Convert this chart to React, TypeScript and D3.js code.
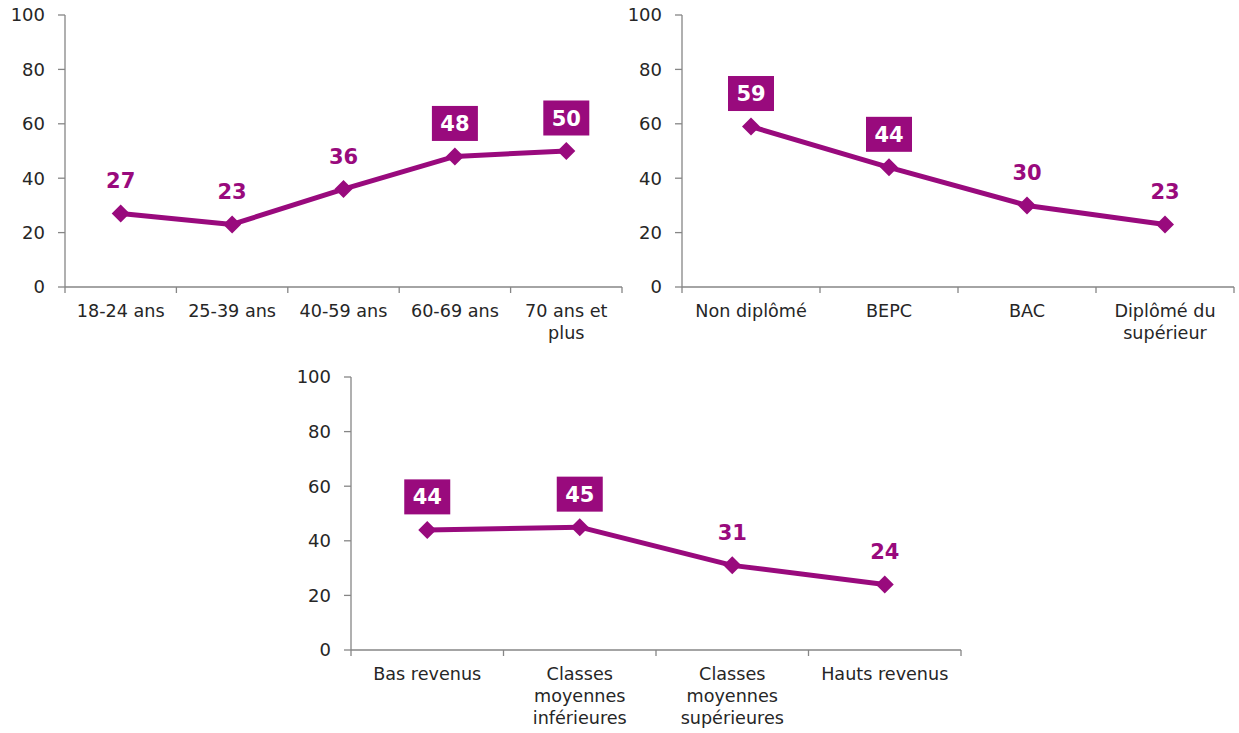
import React from "react";
import * as d3 from "d3";

const ageCategories = ["18-24 ans", "25-39 ans", "40-59 ans", "60-69 ans", "70 ans et\nplus"];
const ageValues = [27, 23, 36, 48, 50];
const ageBoxed = [false, false, false, true, true];

const eduCategories = ["Non diplômé", "BEPC", "BAC", "Diplômé du\nsupérieur"];
const eduValues = [59, 44, 30, 23];
const eduBoxed = [true, true, false, false];

const incCategories = ["Bas revenus", "Classes\nmoyennes\ninférieures", "Classes\nmoyennes\nsupérieures", "Hauts revenus"];
const incValues = [44, 45, 31, 24];
const incBoxed = [true, true, false, false];

const yTicks = [0, 20, 40, 60, 80, 100];

const PURPLE = "#990a7d";
const AXIS = "#868686";
const TEXT = "#262626";
const FONT = "'DejaVu Sans', Verdana, sans-serif";

type PanelProps = {
  x0: number; x1: number; yTop: number; yBottom: number;
  categories: string[]; values: number[]; boxed: boolean[];
};

function Panel({ x0, x1, yTop, yBottom, categories, values, boxed }: PanelProps) {
  const y = d3.scaleLinear().domain([0, 100]).range([yBottom, yTop]);
  const band = d3.scaleBand<string>().domain(categories).range([x0, x1]).padding(0);
  const cx = (c: string) => (band(c) as number) + band.bandwidth() / 2;
  const pts: [number, number][] = categories.map((c, i) => [cx(c), y(values[i])]);
  const line = d3.line()(pts) as string;
  const edges = categories.map((c) => band(c) as number).concat([x1]);
  return (
    <g>
      <line x1={x0} x2={x0} y1={yTop} y2={yBottom} stroke={AXIS} strokeWidth={1.3} />
      <line x1={x0} x2={x1} y1={yBottom} y2={yBottom} stroke={AXIS} strokeWidth={1.3} />
      {yTicks.map((t) => (
        <g key={t}>
          <line x1={x0 - 7} x2={x0} y1={y(t)} y2={y(t)} stroke={AXIS} strokeWidth={1.3} />
          <text x={x0 - 20} y={y(t)} dy="0.36em" textAnchor="end" fontSize={18} fill={TEXT} fontFamily={FONT}>{t}</text>
        </g>
      ))}
      {edges.map((e, i) => (
        <line key={i} x1={e} x2={e} y1={yBottom} y2={yBottom + 6} stroke={AXIS} strokeWidth={1.3} />
      ))}
      {categories.map((c) => (
        <text key={c} x={cx(c)} y={yBottom + 30} textAnchor="middle" fontSize={17.6} fill={TEXT} fontFamily={FONT}>
          {c.split("\n").map((l, j) => (
            <tspan key={j} x={cx(c)} dy={j === 0 ? 0 : 22}>{l}</tspan>
          ))}
        </text>
      ))}
      <path d={line} fill="none" stroke={PURPLE} strokeWidth={5} strokeLinejoin="round" />
      {pts.map(([px, py], i) => (
        <path key={i} d={`M${px},${py - 9}L${px + 9},${py}L${px},${py + 9}L${px - 9},${py}Z`} fill={PURPLE} />
      ))}
      {pts.map(([px, py], i) => {
        const cy = py - 33;
        return (
          <g key={"l" + i}>
            {boxed[i] && <rect x={px - 23} y={cy - 17.5} width={46} height={35} fill={PURPLE} />}
            <text x={px} y={cy} dy="0.36em" textAnchor="middle" fontSize={21} fontWeight="bold"
              fill={boxed[i] ? "#ffffff" : PURPLE} fontFamily={FONT}>{values[i]}</text>
          </g>
        );
      })}
    </g>
  );
}

export default function App() {
  return (
    <svg width={1239} height={733} style={{ position: "absolute", left: 0, top: 0, background: "#fff" }}>
      <rect width={1239} height={733} fill="#fff" />
      <Panel x0={65} x1={622} yTop={15} yBottom={287} categories={ageCategories} values={ageValues} boxed={ageBoxed} />
      <Panel x0={682} x1={1234} yTop={15} yBottom={287} categories={eduCategories} values={eduValues} boxed={eduBoxed} />
      <Panel x0={351} x1={961} yTop={377} yBottom={650} categories={incCategories} values={incValues} boxed={incBoxed} />
    </svg>
  );
}
